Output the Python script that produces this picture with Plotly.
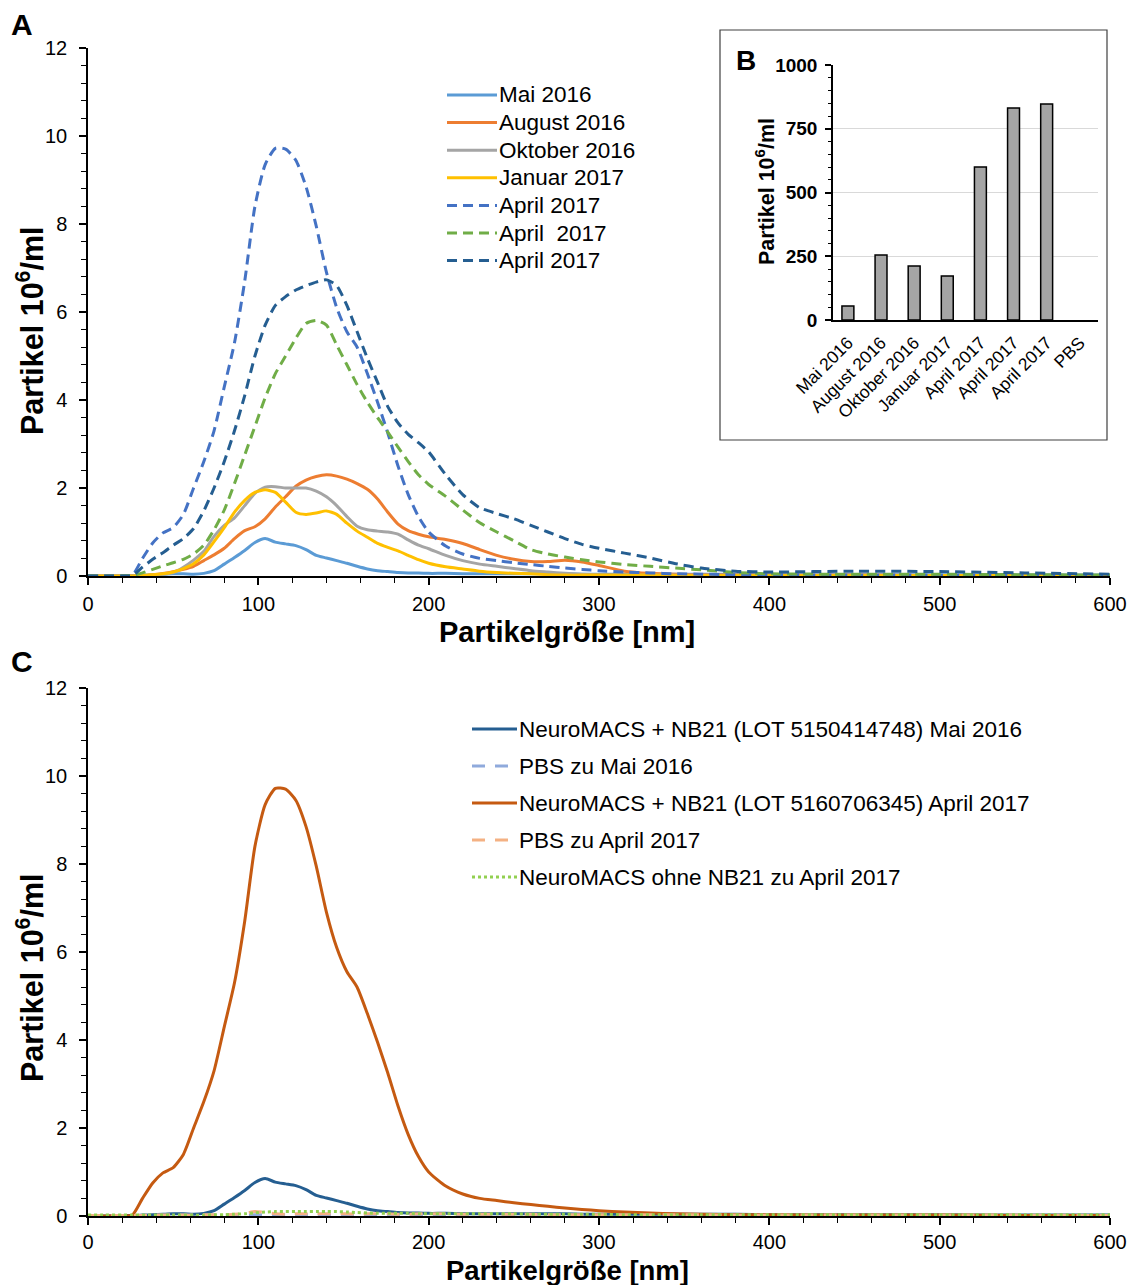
import plotly.graph_objects as go

# ---------------- data ----------------
# particle size grid (nm) shared by all size distributions
size_nm = [0, 10, 20, 26, 32, 38, 44, 50, 56, 62, 68, 74, 80, 86, 92, 98, 104, 110, 116,
           122, 128, 134, 140, 146, 152, 158, 164, 170, 176, 182, 188, 194, 200, 210, 220,
           230, 240, 250, 260, 270, 280, 290, 300, 315, 330, 345, 360, 380, 400, 450, 500,
           550, 600]

# particle concentration (10^6/ml) per size bin
mai_2016 = [0.0, 0.0, 0.01, 0.01, 0.02, 0.03, 0.04, 0.05, 0.05, 0.04, 0.06, 0.12, 0.27, 0.42,
            0.58, 0.76, 0.85, 0.77, 0.73, 0.69, 0.6, 0.47, 0.41, 0.35, 0.29, 0.22, 0.16, 0.12,
            0.1, 0.08, 0.07, 0.07, 0.06, 0.06, 0.05, 0.05, 0.05, 0.05, 0.05, 0.05, 0.05, 0.04,
            0.04, 0.04, 0.04, 0.04, 0.04, 0.04, 0.03, 0.03, 0.03, 0.02, 0.02]
aug_2016 = [0.0, 0.0, 0.0, 0.0, 0.0, 0.03, 0.06, 0.1, 0.15, 0.22, 0.35, 0.48, 0.63, 0.85,
            1.03, 1.12, 1.3, 1.57, 1.8, 2.04, 2.18, 2.26, 2.3, 2.27, 2.2, 2.1, 1.97, 1.75,
            1.45, 1.18, 1.03, 0.95, 0.89, 0.83, 0.74, 0.6, 0.47, 0.38, 0.33, 0.33, 0.36, 0.32,
            0.24, 0.11, 0.06, 0.04, 0.03, 0.03, 0.02, 0.02, 0.01, 0.01, 0.01]
okt_2016 = [0.0, 0.0, 0.0, 0.0, 0.0, 0.02, 0.04, 0.08, 0.2, 0.36, 0.56, 0.9, 1.15, 1.32,
            1.6, 1.88, 2.02, 2.03, 2.0, 2.0, 2.0, 1.93, 1.8, 1.6, 1.35, 1.13, 1.05, 1.02, 1.0,
            0.95, 0.82, 0.7, 0.62, 0.47, 0.35, 0.27, 0.22, 0.17, 0.12, 0.09, 0.06, 0.04, 0.03,
            0.02, 0.02, 0.02, 0.02, 0.02, 0.01, 0.01, 0.01, 0.01, 0.01]
jan_2017 = [0.0, 0.0, 0.0, 0.0, 0.01, 0.03, 0.05, 0.09, 0.17, 0.28, 0.48, 0.78, 1.1, 1.45,
            1.72, 1.9, 1.96, 1.9, 1.68, 1.45, 1.4, 1.43, 1.48, 1.4, 1.2, 1.02, 0.88, 0.74,
            0.65, 0.57, 0.47, 0.37, 0.29, 0.21, 0.16, 0.11, 0.08, 0.06, 0.05, 0.03, 0.02, 0.02,
            0.02, 0.02, 0.02, 0.01, 0.01, 0.01, 0.01, 0.01, 0.01, 0.01, 0.01]
apr_2017_a = [0.0, 0.0, 0.0, 0.02, 0.4, 0.75, 0.98, 1.1, 1.4, 2.0, 2.6, 3.3, 4.3, 5.3, 6.7,
              8.4, 9.35, 9.72, 9.7, 9.45, 8.85, 7.95, 6.9, 6.1, 5.55, 5.2, 4.6, 3.95, 3.25,
              2.5, 1.85, 1.35, 1.0, 0.68, 0.5, 0.4, 0.35, 0.3, 0.26, 0.22, 0.18, 0.15, 0.12,
              0.09, 0.07, 0.05, 0.04, 0.03, 0.03, 0.02, 0.02, 0.01, 0.01]
apr_2017_b = [0.0, 0.0, 0.0, 0.01, 0.07, 0.15, 0.23, 0.3, 0.38, 0.5, 0.7, 1.05, 1.5, 2.1,
              2.75, 3.4, 4.05, 4.6, 5.0, 5.4, 5.74, 5.81, 5.7, 5.25, 4.8, 4.35, 3.95, 3.6,
              3.27, 2.93, 2.6, 2.3, 2.08, 1.81, 1.5, 1.21, 1.0, 0.8, 0.6, 0.5, 0.43, 0.37,
              0.32, 0.26, 0.22, 0.18, 0.14, 0.08, 0.05, 0.04, 0.04, 0.03, 0.02]
apr_2017_c = [0.0, 0.0, 0.0, 0.01, 0.2, 0.38, 0.53, 0.7, 0.85, 1.08, 1.48, 2.0, 2.6, 3.3,
              4.1, 5.0, 5.7, 6.15, 6.35, 6.5, 6.6, 6.68, 6.73, 6.6, 6.15, 5.55, 4.95, 4.4,
              3.85, 3.48, 3.22, 3.03, 2.82, 2.3, 1.85, 1.55, 1.42, 1.3, 1.15, 1.0, 0.85, 0.72,
              0.63, 0.52, 0.41, 0.28, 0.18, 0.11, 0.09, 0.11, 0.1, 0.07, 0.04]
pbs_mai_2016 = [0.01, 0.01, 0.01, 0.01, 0.01, 0.02, 0.02, 0.02, 0.02, 0.02, 0.02, 0.02, 0.02,
                0.02, 0.03, 0.03, 0.03, 0.03, 0.03, 0.03, 0.03, 0.03, 0.03, 0.03, 0.03, 0.03,
                0.03, 0.03, 0.03, 0.03, 0.03, 0.03, 0.03, 0.02, 0.02, 0.02, 0.02, 0.02, 0.02,
                0.02, 0.02, 0.02, 0.02, 0.02, 0.02, 0.02, 0.02, 0.02, 0.02, 0.02, 0.01, 0.01,
                0.01]
pbs_apr_2017 = [0.01, 0.01, 0.01, 0.01, 0.01, 0.02, 0.02, 0.02, 0.02, 0.02, 0.03, 0.03, 0.03,
                0.04, 0.06, 0.1, 0.08, 0.05, 0.04, 0.05, 0.05, 0.05, 0.05, 0.05, 0.05, 0.04,
                0.05, 0.05, 0.05, 0.04, 0.04, 0.05, 0.05, 0.05, 0.04, 0.04, 0.04, 0.04, 0.04,
                0.03, 0.03, 0.03, 0.03, 0.03, 0.03, 0.03, 0.03, 0.02, 0.02, 0.02, 0.02, 0.02,
                0.01]
ohne_nb21_apr_2017 = [0.02, 0.02, 0.02, 0.02, 0.02, 0.02, 0.02, 0.02, 0.02, 0.02, 0.02, 0.03,
                      0.03, 0.04, 0.05, 0.07, 0.09, 0.1, 0.1, 0.1, 0.1, 0.1, 0.1, 0.1, 0.09,
                      0.08, 0.07, 0.06, 0.06, 0.06, 0.06, 0.05, 0.05, 0.05, 0.05, 0.05, 0.05,
                      0.05, 0.04, 0.04, 0.04, 0.04, 0.04, 0.03, 0.03, 0.03, 0.03, 0.03, 0.03,
                      0.03, 0.03, 0.03, 0.03]

# total particle counts (10^6/ml) per preparation
totals_labels = ["Mai 2016", "August 2016", "Oktober 2016", "Januar 2017",
                 "April 2017", "April 2017", "April 2017", "PBS"]
totals_values = [55, 255, 212, 173, 600, 831, 847, 0]

FONT = "Arial, Liberation Sans, sans-serif"
W, H = 1138, 1285
X_TITLE = "<b>Partikelgröße [nm]</b>"
Y_TITLE = "<b>Partikel 10<sup>6</sup>/ml</b>"


def px_x(p):
    return p / W


def px_y(p):
    return 1 - p / H


def paper_text(text, x, y, size, angle=0, anchor="center"):
    return dict(text=text, x=px_x(x), y=px_y(y), xref="paper", yref="paper",
                xanchor=anchor, yanchor="middle", showarrow=False, textangle=angle,
                borderpad=0, font=dict(family=FONT, size=size, color="black"))


fig = go.Figure()
shapes = []
annotations = []

# ---------------- panel A ----------------
DASH_A = "10px,6px"
panel_a = [
    ("Mai 2016", mai_2016, "#5B9BD5", "solid"),
    ("August 2016", aug_2016, "#ED7D31", "solid"),
    ("Oktober 2016", okt_2016, "#A5A5A5", "solid"),
    ("Januar 2017", jan_2017, "#FFC000", "solid"),
    ("April 2017", apr_2017_a, "#4472C4", DASH_A),
    ("April  2017", apr_2017_b, "#70AD47", DASH_A),
    ("April 2017", apr_2017_c, "#255E91", DASH_A),
]
for i, (name, vals, col, dash) in enumerate(panel_a):
    fig.add_trace(go.Scatter(
        x=size_nm, y=vals, mode="lines", name=name, showlegend=False,
        line=dict(color=col, width=3, dash=dash, shape="spline", smoothing=0.6),
        xaxis="x", yaxis="y",
    ))
    # key entry: line sample + label
    yk = 95 + 27.6 * i
    shapes.append(dict(type="line", xref="paper", yref="paper", x0=px_x(447), x1=px_x(497),
                       y0=px_y(yk), y1=px_y(yk), line=dict(color=col, width=3, dash=dash)))
    annotations.append(paper_text(name.replace("  ", "&nbsp; "), 498, yk, 22.5, anchor="left"))

# ---------------- panel C ----------------
panel_c = [
    ("NeuroMACS + NB21 (LOT 5150414748) Mai 2016", mai_2016, "#255E91", "solid"),
    ("PBS zu Mai 2016", pbs_mai_2016, "#8FAADC", "13px,10px"),
    ("NeuroMACS + NB21 (LOT 5160706345) April 2017", apr_2017_a, "#C55A11", "solid"),
    ("PBS zu April 2017", pbs_apr_2017, "#F4B183", "13px,10px"),
    ("NeuroMACS ohne NB21 zu April 2017", ohne_nb21_apr_2017, "#92D050", "3px,3px"),
]
for i, (name, vals, col, dash) in enumerate(panel_c):
    fig.add_trace(go.Scatter(
        x=size_nm, y=vals, mode="lines", name=name, showlegend=False,
        line=dict(color=col, width=3, dash=dash, shape="spline", smoothing=0.6),
        xaxis="x2", yaxis="y2",
    ))
    yk = 729 + 37 * i
    shapes.append(dict(type="line", xref="paper", yref="paper", x0=px_x(472), x1=px_x(517),
                       y0=px_y(yk), y1=px_y(yk), line=dict(color=col, width=3, dash=dash)))
    annotations.append(paper_text(name, 518, yk, 22.5, anchor="left"))

# ---------------- inset B ----------------
fig.add_trace(go.Bar(
    x=list(range(len(totals_labels))), y=totals_values, width=0.36,
    marker=dict(color="#A5A5A5",
                line=dict(color="black", width=[1.5 if v > 0 else 0 for v in totals_values])),
    xaxis="x3", yaxis="y3", showlegend=False,
))

tickfont = dict(family=FONT, size=20, color="black")
x_dom = [px_x(88), px_x(1110)]
ya_dom = [px_y(576), px_y(48)]
yc_dom = [px_y(1216), px_y(688)]


def size_axis(anchor, standoff):
    return dict(
        domain=x_dom, anchor=anchor, range=[0, 600], tickvals=[0, 100, 200, 300, 400, 500, 600],
        ticks="outside", ticklen=7, tickwidth=1.5, tickcolor="black",
        minor=dict(dtick=20, tick0=0, ticks="outside", ticklen=5, tickwidth=1.2, tickcolor="black"),
        showline=True, linecolor="black", linewidth=1.5, showgrid=False, zeroline=False,
        tickfont=tickfont, ticklabelstandoff=standoff, automargin=False,
    )


def conc_axis(dom, anchor):
    return dict(
        domain=dom, anchor=anchor, range=[0, 12], tickvals=[0, 2, 4, 6, 8, 10, 12],
        ticks="outside", ticklen=7, tickwidth=1.5, tickcolor="black",
        minor=dict(dtick=0.4, tick0=0, ticks="outside", ticklen=5, tickwidth=1.2, tickcolor="black"),
        showline=True, linecolor="black", linewidth=1.5, showgrid=False, zeroline=False,
        tickfont=tickfont, ticklabelstandoff=8, automargin=False,
    )


def cross_x(overlay, anchor):
    return dict(overlaying=overlay, anchor=anchor, side="bottom", range=[0, 600],
                tickvals=[0, 100, 200, 300, 400, 500, 600], ticks="inside", ticklen=7,
                tickwidth=1.5, tickcolor="black", showticklabels=False, showline=False,
                showgrid=False, zeroline=False, automargin=False)


def cross_y(overlay, anchor):
    return dict(overlaying=overlay, anchor=anchor, side="left", range=[0, 12],
                tickvals=[0, 2, 4, 6, 8, 10, 12], ticks="inside", ticklen=7,
                tickwidth=1.5, tickcolor="black", showticklabels=False, showline=False,
                showgrid=False, zeroline=False, automargin=False)


shapes.append(dict(type="rect", xref="paper", yref="paper", x0=px_x(720), x1=px_x(1107),
                   y0=px_y(440), y1=px_y(30), line=dict(color="#404040", width=1.2),
                   fillcolor="rgba(0,0,0,0)", layer="above"))

annotations += [
    # panel letters
    paper_text("<b>A</b>", 22, 24, 30),
    paper_text("<b>C</b>", 22, 662, 30),
    paper_text("<b>B</b>", 746, 60, 28),
    # axis titles
    paper_text(X_TITLE, 567, 632, 29),
    paper_text(X_TITLE, 567, 1270, 27.5),
    paper_text(Y_TITLE, 30, 331, 30.5, angle=-90),
    paper_text(Y_TITLE, 30, 978, 30.5, angle=-90),
    paper_text(Y_TITLE, 765, 192, 21.5, angle=-90),
]

fig.update_layout(
    width=W, height=H,
    margin=dict(l=0, r=0, t=0, b=0),
    paper_bgcolor="white", plot_bgcolor="rgba(0,0,0,0)",
    font=dict(family=FONT, color="black"),
    showlegend=False,
    xaxis=size_axis("y", 2),
    yaxis=conc_axis(ya_dom, "x"),
    xaxis2=size_axis("y2", 0),
    yaxis2=conc_axis(yc_dom, "x2"),
    xaxis4=cross_x("x", "y"),
    yaxis4=cross_y("y", "x"),
    xaxis5=cross_x("x2", "y2"),
    yaxis5=cross_y("y2", "x2"),
    xaxis3=dict(
        domain=[px_x(833), px_x(1098)], anchor="y3", range=[-0.45, 7.55],
        tickvals=list(range(len(totals_labels))), ticktext=totals_labels,
        tickangle=-45, ticks="", showline=True, linecolor="black", linewidth=1.5,
        showgrid=False, zeroline=False, automargin=False, ticklabelstandoff=4,
        tickfont=dict(family=FONT, size=17.5, color="black"),
    ),
    yaxis3=dict(
        domain=[px_y(320), px_y(65)], anchor="x3", range=[0, 1000],
        tickvals=[0, 250, 500, 750, 1000], ticks="outside", ticklen=6, tickwidth=1.5,
        tickcolor="black",
        minor=dict(dtick=50, tick0=0, ticks="outside", ticklen=3, tickwidth=1.2, tickcolor="black"),
        showline=True, linecolor="black", linewidth=1.5,
        showgrid=True, gridcolor="#D9D9D9", gridwidth=1, zeroline=False, automargin=False,
        tickfont=dict(family=FONT, size=19, color="black", weight="bold"), ticklabelstandoff=4,
    ),
    shapes=shapes,
    annotations=annotations,
)

fig.write_html("out.html")
